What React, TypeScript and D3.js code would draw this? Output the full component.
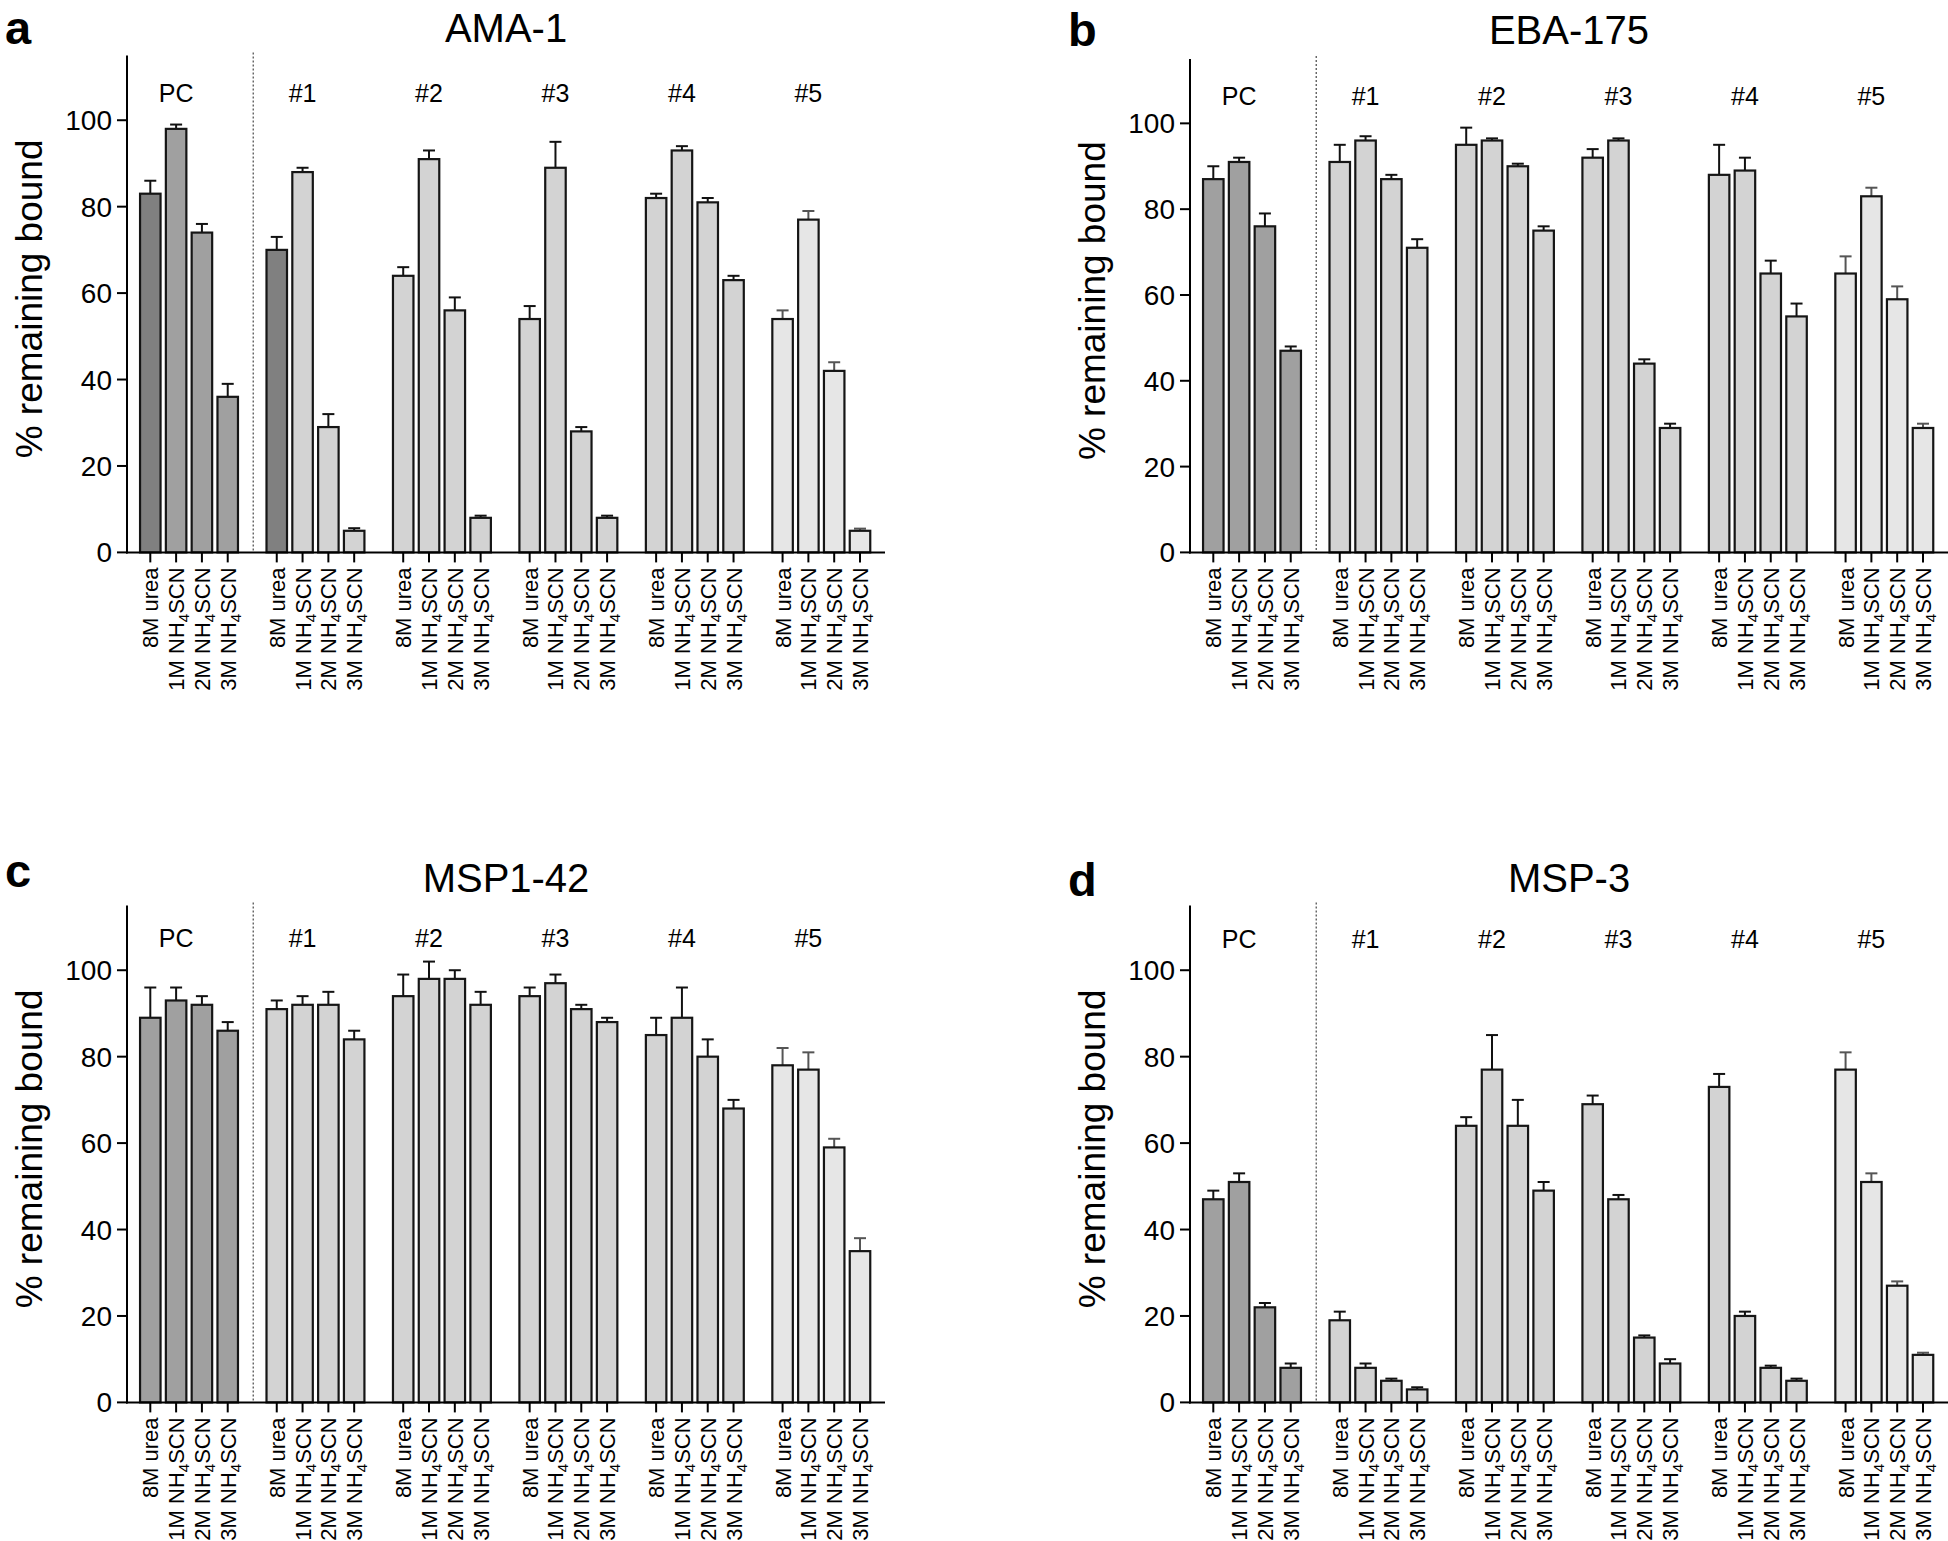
import React from 'react';
import * as d3 from 'd3';

const groups = ['PC', '#1', '#2', '#3', '#4', '#5'];
const treatments = ['8M urea', '1M NH4SCN', '2M NH4SCN', '3M NH4SCN'];
const yTicks = [0, 20, 40, 60, 80, 100];

// panel a: AMA-1
const amaMean = [[83, 98, 74, 36], [70, 88, 29, 5], [64, 91, 56, 8], [54, 89, 28, 8], [82, 93, 81, 63], [54, 77, 42, 5]];
const amaErr = [[3, 1, 2, 3], [3, 1, 3, 0.6], [2, 2, 3, 0.5], [3, 6, 1, 0.5], [1, 1, 1, 1], [2, 2, 2, 0.5]];
// panel b: EBA-175
const ebaMean = [[87, 91, 76, 47], [91, 96, 87, 71], [95, 96, 90, 75], [92, 96, 44, 29], [88, 89, 65, 55], [65, 83, 59, 29]];
const ebaErr = [[3, 1, 3, 1], [4, 1, 1, 2], [4, 0.5, 0.6, 1], [2, 0.5, 1, 1], [7, 3, 3, 3], [4, 2, 3, 1]];
// panel c: MSP1-42
const mspMean = [[89, 93, 92, 86], [91, 92, 92, 84], [94, 98, 98, 92], [94, 97, 91, 88], [85, 89, 80, 68], [78, 77, 59, 35]];
const mspErr = [[7, 3, 2, 2], [2, 2, 3, 2], [5, 4, 2, 3], [2, 2, 1, 1], [4, 7, 4, 2], [4, 4, 2, 3]];
// panel d: MSP-3
const msp3Mean = [[47, 51, 22, 8], [19, 8, 5, 3], [64, 77, 64, 49], [69, 47, 15, 9], [73, 20, 8, 5], [77, 51, 27, 11]];
const msp3Err = [[2, 2, 1, 1], [2, 1, 0.5, 0.5], [2, 8, 6, 2], [2, 1, 0.5, 1], [3, 1, 0.5, 0.5], [4, 2, 1, 0.5]];

const groupFill = ['#a0a0a0', '#d3d3d3', '#d3d3d3', '#d3d3d3', '#d3d3d3', '#e6e6e6'];
const darkFill = '#808080';
// [group, treatment] bars drawn darker in panel a
const amaDark = [[0, 0], [1, 0]];

const FONT = "'Liberation Sans', Arial, Helvetica, sans-serif";

type PanelProps = {
  letter: string;
  title: string;
  means: number[][];
  errs: number[][];
  dark: number[][];
  axisX: number;
  yTop: number;
  yZero: number;
  letterY: number;
  titleY: number;
  groupY: number;
};

const GAP_UNITS = 0.9;

function Panel(p: PanelProps) {
  const y = d3.scaleLinear().domain([0, 115]).range([p.yZero, p.yTop]);
  const nUnits = 5 * (4 + GAP_UNITS) + 3;
  const x = d3.scaleLinear().domain([0, nUnits]).range([p.axisX + 23.3, p.axisX + 733]);
  const pos = (g: number, i: number) => x(g * (4 + GAP_UNITS) + i);
  const barW = 20.5;
  const sepX = x(3 + (1 + GAP_UNITS) / 2) + 1;
  const xEnd = p.axisX + 758;
  const plotCenter = (p.axisX + xEnd) / 2;
  const isDark = (g: number, i: number) => p.dark.some((d) => d[0] === g && d[1] === i);

  const bars: React.ReactNode[] = [];
  const labels: React.ReactNode[] = [];
  groups.forEach((gname, g) => {
    treatments.forEach((t, i) => {
      const cx = pos(g, i);
      const v = p.means[g][i];
      const e = p.errs[g][i];
      const errCol = g === 5 ? '#555' : '#111';
      bars.push(
        <g key={`b${g}-${i}`}>
          <line x1={cx} x2={cx} y1={y(v)} y2={y(v + e)} stroke={errCol} strokeWidth={2} />
          <line x1={cx - 6} x2={cx + 6} y1={y(v + e)} y2={y(v + e)} stroke={errCol} strokeWidth={2} />
          <rect
            x={cx - barW / 2}
            y={y(v)}
            width={barW}
            height={p.yZero - y(v)}
            fill={isDark(g, i) ? darkFill : groupFill[g]}
            stroke="#151515"
            strokeWidth={2.2}
          />
          <line x1={cx} x2={cx} y1={p.yZero} y2={p.yZero + 10} stroke="#000" strokeWidth={2} />
        </g>
      );
      const m = t.match(/^(\d M NH)4(SCN)$/.source.replace(' ', '') === '' ? /x/ : /^(\dM NH)4(SCN)$/);
      labels.push(
        <text
          key={`l${g}-${i}`}
          transform={`translate(${cx},${p.yZero + 15}) rotate(-90)`}
          y={8}
          textAnchor="end"
          fontSize={22}
          fontFamily={FONT}
          fill="#000"
        >
          {m ? (
            <>
              {m[1]}
              <tspan dy={5} fontSize={15}>4</tspan>
              <tspan dy={-5}>{m[2]}</tspan>
            </>
          ) : (
            t
          )}
        </text>
      );
    });
    labels.push(
      <text key={`g${g}`} x={pos(g, 1)} y={p.groupY} textAnchor="middle" fontSize={25} fontFamily={FONT}>
        {gname}
      </text>
    );
  });

  return (
    <g>
      <text x={p.axisX - 122} y={p.letterY} fontSize={47} fontWeight="bold" fontFamily={FONT}>
        {p.letter}
      </text>
      <text x={plotCenter} y={p.titleY} textAnchor="middle" fontSize={40} fontFamily={FONT}>
        {p.title}
      </text>
      <text
        transform={`translate(${p.axisX - 85},${(p.yTop + p.yZero) / 2 - 5}) rotate(-90)`}
        textAnchor="middle"
        fontSize={37}
        fontFamily={FONT}
      >
        % remaining bound
      </text>
      {yTicks.map((t) => (
        <g key={`yt${t}`}>
          <line x1={p.axisX - 10} x2={p.axisX} y1={y(t)} y2={y(t)} stroke="#000" strokeWidth={2} />
          <text x={p.axisX - 15} y={y(t)} dy="0.36em" textAnchor="end" fontSize={28} fontFamily={FONT}>
            {t}
          </text>
        </g>
      ))}
      <line
        x1={sepX}
        x2={sepX}
        y1={p.yTop - 3}
        y2={p.yZero}
        stroke="#555"
        strokeWidth={1.3}
        strokeDasharray="2,2"
      />
      {bars}
      <line x1={p.axisX} x2={p.axisX} y1={p.yTop} y2={p.yZero + 1} stroke="#000" strokeWidth={2} />
      <line x1={p.axisX - 1} x2={xEnd} y1={p.yZero} y2={p.yZero} stroke="#000" strokeWidth={2} />
      {labels}
    </g>
  );
}

export default function App() {
  return (
    <svg
      width={1948}
      height={1541}
      viewBox="0 0 1948 1541"
      style={{ position: 'absolute', left: 0, top: 0, background: '#fff' }}
    >
      <rect x={0} y={0} width={1948} height={1541} fill="#fff" />
      <Panel letter="a" title="AMA-1" means={amaMean} errs={amaErr} dark={amaDark}
        axisX={127} yTop={55.4} yZero={552.4} letterY={43.5} titleY={41.5} groupY={101.5} />
      <Panel letter="b" title="EBA-175" means={ebaMean} errs={ebaErr} dark={[]}
        axisX={1190} yTop={59} yZero={552.4} letterY={46} titleY={43.8} groupY={105} />
      <Panel letter="c" title="MSP1-42" means={mspMean} errs={mspErr} dark={[]}
        axisX={127} yTop={905.4} yZero={1402.4} letterY={887} titleY={891.5} groupY={947} />
      <Panel letter="d" title="MSP-3" means={msp3Mean} errs={msp3Err} dark={[]}
        axisX={1190} yTop={905.4} yZero={1402.4} letterY={896} titleY={891.5} groupY={948} />
    </svg>
  );
}
